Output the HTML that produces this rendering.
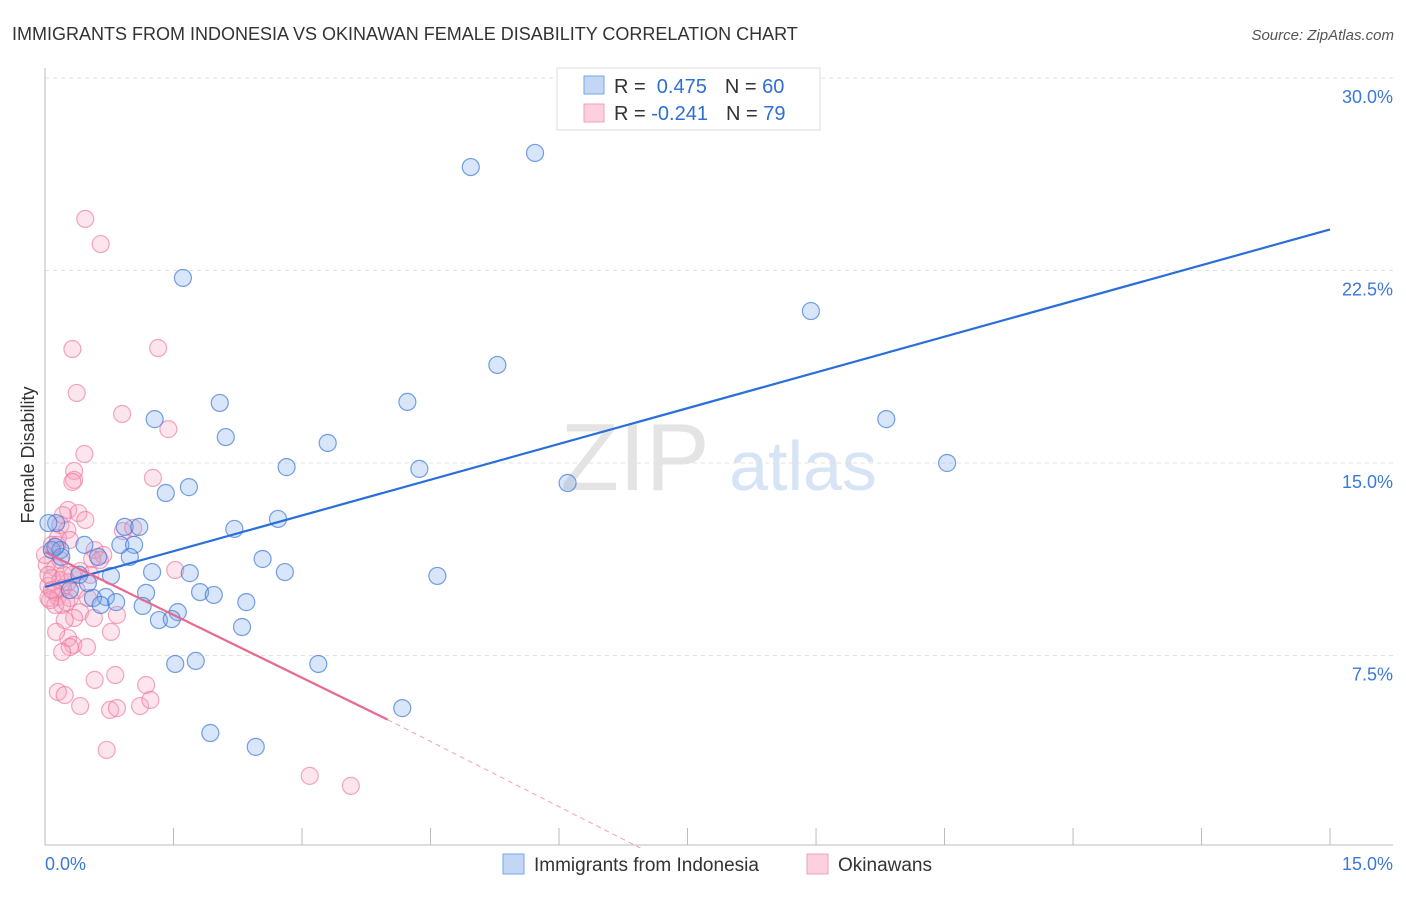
<!DOCTYPE html>
<html><head><meta charset="utf-8"><style>
body{margin:0;background:#fff;font-family:"Liberation Sans",sans-serif;}
svg text{font-family:"Liberation Sans",sans-serif;}
</style></head><body>
<svg id="chart" width="1406" height="892">
<text x="12" y="40" font-size="18" fill="#333">IMMIGRANTS FROM INDONESIA VS OKINAWAN FEMALE DISABILITY CORRELATION CHART</text>
<text x="1394" y="40" font-size="15" fill="#555" font-style="italic" text-anchor="end">Source: ZipAtlas.com</text>
<g>
<text x="635" y="490" font-size="96" fill="#e4e4e4" font-family="Liberation Serif,serif" text-anchor="middle">ZIP</text>
<text x="803" y="490" font-size="70" fill="#d6e4f6" text-anchor="middle">atlas</text>
</g>
<g id="grid"></g>
<g id="axes"></g>
<g id="marks"></g>
<text transform="translate(34,455) rotate(-90)" font-size="18" fill="#333" text-anchor="middle">Female Disability</text>
<g>
<rect x="557" y="68" width="263" height="62" fill="#fff" stroke="#ddd"/>
<rect x="584" y="76" width="20" height="18" fill="#c3d7f5" stroke="#7aa6e8"/>
<rect x="584" y="104" width="20" height="18" fill="#fcd0dd" stroke="#f0a0bb"/>
<text x="614" y="93" font-size="20" fill="#333">R = <tspan fill="#2e6fd6">&#160;0.475</tspan><tspan dx="18">N = </tspan><tspan fill="#2e6fd6">60</tspan></text>
<text x="614" y="120" font-size="20" fill="#333">R = <tspan fill="#2e6fd6">-0.241</tspan><tspan dx="18">N = </tspan><tspan fill="#2e6fd6">79</tspan></text>
</g>
<g>
<rect x="503" y="854" width="21" height="20" fill="#c3d7f5" stroke="#7aa6e8"/>
<text x="534" y="871" font-size="19" fill="#333">Immigrants from Indonesia</text>
<rect x="807" y="854" width="21" height="20" fill="#fcd0dd" stroke="#f0a0bb"/>
<text x="838" y="871" font-size="19" fill="#333">Okinawans</text>
</g>
</svg>
<script>
const blueX=[5.72,4.97,1.61,8.94,5.28,4.23,2.04,1.28,9.82,2.11,3.30,10.53,2.82,4.37,6.10,1.68,1.41,0.93,1.10,2.21,2.72,0.13,0.46,0.88,1.04,0.08,0.18,0.99,0.62,2.54,0.19,1.25,1.69,2.80,4.58,0.77,0.40,0.50,0.29,1.18,1.81,1.97,0.71,0.56,0.83,0.65,1.14,2.35,1.55,1.33,1.48,2.30,1.52,1.76,3.19,4.17,1.93,2.46,0.04,0.12];
const blueY=[27.08,26.53,22.21,20.92,18.82,17.38,17.34,16.71,16.71,16.01,15.78,15.00,14.84,14.77,14.22,14.06,13.83,12.51,12.51,12.43,12.82,12.66,11.81,11.81,11.81,11.61,11.61,11.34,11.34,11.26,11.34,10.75,10.71,10.75,10.60,10.60,10.64,10.32,10.05,9.94,9.97,9.86,9.78,9.74,9.58,9.47,9.43,9.58,9.19,8.88,8.92,8.61,7.17,7.29,7.17,5.45,4.48,3.94,12.66,11.73];
const pinkX=[0.47,0.65,0.32,1.32,0.37,0.90,1.44,0.46,0.34,0.34,1.26,0.32,0.27,0.21,0.39,0.47,0.18,0.26,0.91,1.03,0.15,0.29,0.08,0.58,0.68,0.55,0.02,0.12,0.41,0.53,1.52,0.08,0.18,0.27,0.04,0.21,0.37,0.12,0.04,0.15,0.29,0.50,0.20,0.41,0.12,0.84,0.34,0.23,0.57,0.77,0.27,0.13,0.33,0.29,0.49,0.20,0.82,0.58,1.18,0.15,0.23,0.41,0.76,0.84,1.11,1.23,0.72,3.09,3.57,0.04,0.06,0.08,0.18,0.00,0.25,0.64,0.14,0.22,0.32];
const pinkY=[24.51,23.53,19.44,19.48,17.73,16.91,16.32,15.35,14.69,14.34,14.42,14.26,13.17,12.97,13.05,12.78,12.58,12.39,12.35,12.47,12.08,12.00,11.81,11.61,11.42,11.26,11.03,10.91,10.79,10.64,10.83,10.52,10.44,10.36,10.21,10.13,10.05,9.97,9.74,9.78,9.74,9.74,9.47,9.19,9.47,9.08,8.96,8.88,8.96,8.42,8.18,8.42,7.91,7.83,7.83,7.64,6.74,6.55,6.35,6.08,5.96,5.53,5.38,5.45,5.53,5.77,3.82,2.81,2.42,10.64,9.66,10.05,11.22,11.42,9.58,11.22,11.81,10.64,10.64];
const blueTrendX=[0,15];
const blueTrendY=[10.17,24.1];
const pinkTrendX=[0,4.0];
const pinkTrendY=[11.53,5.0];
const pinkDashX=[4.0,6.95];
const pinkDashY=[5.0,0];
const yTicks=[7.5,15.0,22.5,30.0];
const yTickLabels=["7.5%","15.0%","22.5%","30.0%"];
const xTicks=[0,1.5,3,4.5,6,7.5,9,10.5,12,13.5,15];
const xEndLabels=["0.0%","15.0%"];

const NS="http://www.w3.org/2000/svg";
const sx=v=>45+v*85.67;
const sy=v=>848-v*25.667;
function mk(tag,attrs,parent){const e=document.createElementNS(NS,tag);for(const k in attrs)e.setAttribute(k,attrs[k]);parent.appendChild(e);return e;}
const grid=document.getElementById('grid'),axes=document.getElementById('axes'),marks=document.getElementById('marks');
yTicks.forEach((t,i)=>{
  const l=mk('line',{x1:45,x2:1393,y1:sy(t),y2:sy(t),stroke:'#e2e2e2','stroke-dasharray':'4,4'},grid);
  
  
  const tx=mk('text',{x:1393,y:sy(t)+25,'font-size':18,fill:'#3b78d8','text-anchor':'end'},axes);
  tx.textContent=yTickLabels[i];
  
  
});
const ya=mk('line',{x1:45,x2:45,y1:68,y2:845,stroke:'#bbb'},axes);


const xa=mk('line',{x1:45,x2:1393,y1:845,y2:845,stroke:'#bbb'},axes);


xTicks.forEach(t=>{
  const l=mk('line',{x1:sx(t),x2:sx(t),y1:828,y2:845,stroke:'#bbb'},axes);
  
  
});
[[45,'start'],[1393,'end']].forEach((p,i)=>{
  const tx=mk('text',{x:p[0],y:870,'font-size':18,fill:'#3b78d8','text-anchor':p[1]},axes);
  tx.textContent=xEndLabels[i];
  
  
});
function dots(X,Y,fill,stroke,name){
  X.forEach((x,i)=>{
    const c=mk('circle',{cx:sx(x),cy:sy(Y[i]),r:8.5,fill:fill,stroke:stroke,'stroke-width':1.2},marks);
    
    
  });
}
dots(pinkX,pinkY,'rgba(247,160,190,0.28)','rgba(236,120,160,0.65)','okinawan-point');
dots(blueX,blueY,'rgba(120,165,235,0.28)','rgba(60,120,215,0.7)','indonesia-point');
const bl=mk('line',{x1:sx(blueTrendX[0]),y1:sy(blueTrendY[0]),x2:sx(blueTrendX[1]),y2:sy(blueTrendY[1]),stroke:'#2a6fd8','stroke-width':2.2},marks);


const pl=mk('line',{x1:sx(pinkTrendX[0]),y1:sy(pinkTrendY[0]),x2:sx(pinkTrendX[1]),y2:sy(pinkTrendY[1]),stroke:'#e8698f','stroke-width':2.2},marks);


const pd=mk('line',{x1:sx(pinkDashX[0]),y1:sy(pinkDashY[0]),x2:sx(pinkDashX[1]),y2:sy(pinkDashY[1]),stroke:'#f0a0bb','stroke-width':1,'stroke-dasharray':'5,4'},marks);


</script>
</body></html>
